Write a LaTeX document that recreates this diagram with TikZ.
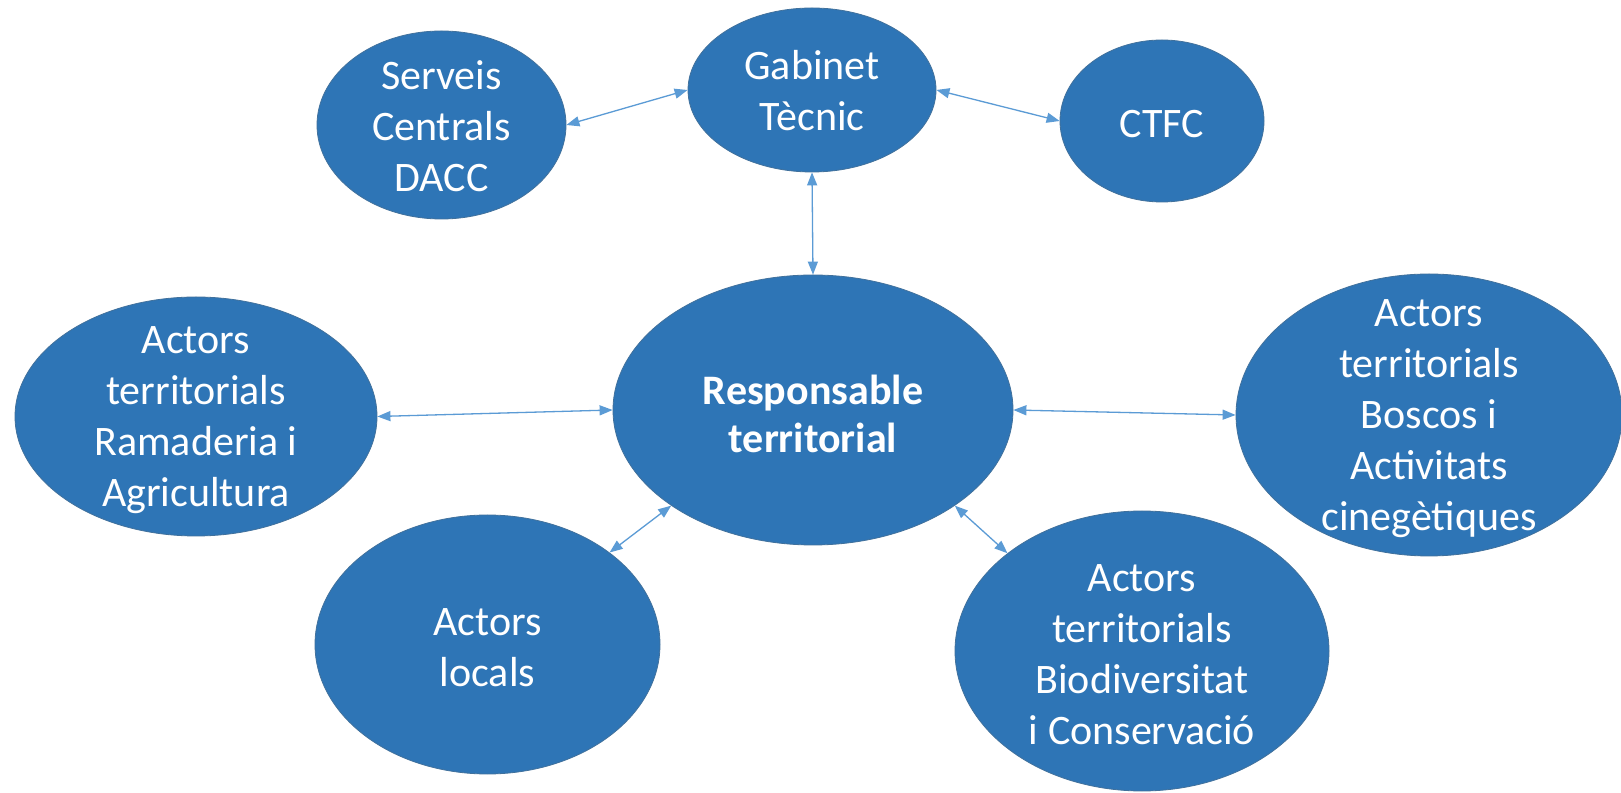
\documentclass[tikz,border=0pt]{standalone}
\usepackage{fontspec}
\setmainfont{Carlito}
\usetikzlibrary{shapes.geometric,arrows.meta}
\definecolor{bubble}{HTML}{2E75B6}
\definecolor{bubbleedge}{HTML}{41719C}
\definecolor{link}{HTML}{5B9BD5}
\tikzset{
  bub/.style={ellipse, fill=bubble, draw=bubbleedge, line width=0.8pt, inner sep=0pt},
  lbl/.style={text=white, align=center, font=\fontsize{42}{51}\selectfont, inner sep=0pt},
  lblb/.style={text=white, align=center, font=\fontsize{42}{48}\selectfont\bfseries, inner sep=0pt},
  lnk/.style={draw=link, line width=1.3pt, {Triangle[length=13pt,width=10pt]}-{Triangle[length=13pt,width=10pt]}}
}
\begin{document}
\begin{tikzpicture}[x=1pt,y=1pt]
\useasboundingbox (0,0) rectangle (1621,792);
\fill[white] (0,0) rectangle (1621,792);
% shapes
\node[bub, minimum width=249pt, minimum height=188pt] (serveis) at (441.5,667) {};
\node[bub, minimum width=248pt, minimum height=164pt] (gabinet) at (812,702) {};
\node[bub, minimum width=204pt, minimum height=162pt] (ctfc) at (1162,671) {};
\node[bub, minimum width=400pt, minimum height=270pt] (resp) at (813,382) {};
\node[bub, minimum width=362pt, minimum height=239pt] (ramad) at (196,375.5) {};
\node[bub, minimum width=386pt, minimum height=282pt] (boscos) at (1429,377) {};
\node[bub, minimum width=345pt, minimum height=259pt] (locals) at (487.5,147.5) {};
\node[bub, minimum width=374pt, minimum height=280pt] (biodiv) at (1142,141) {};
% labels
\node[lbl] (tserveis) at (441.5,666) {Serveis\\Centrals\\DACC};
\node[lbl] (tgabinet) at (812,701) {Gabinet\\Tècnic};
\node[lbl] (tctfc) at (1162,668) {CTFC};
\node[lblb] (tresp) at (813,378) {Responsable\\territorial};
\node[lbl] (tramad) at (196,372) {Actors\\territorials\\Ramaderia i\\Agricultura};
\node[lbl] (tboscos) at (1429,373) {Actors\\territorials\\Boscos i\\Activitats\\cinegètiques};
\node[lbl] (tlocals) at (487.5,144) {Actors\\locals};
\node[lbl] (tbiodiv) at (1142,137) {Actors\\territorials\\Biodiversitat\\i Conservació};
% connectors
\draw[lnk] (serveis.east) -- (gabinet.west);
\draw[lnk] (gabinet.east) -- (ctfc.west);
\draw[lnk] (gabinet.south) -- (resp.north);
\draw[lnk] (ramad.east) -- (resp.west);
\draw[lnk] (resp.east) -- (boscos.west);
\draw[lnk] (resp.214) -- (locals.37);
\draw[lnk] (resp.-34) -- (biodiv.144);
\end{tikzpicture}
\end{document}
